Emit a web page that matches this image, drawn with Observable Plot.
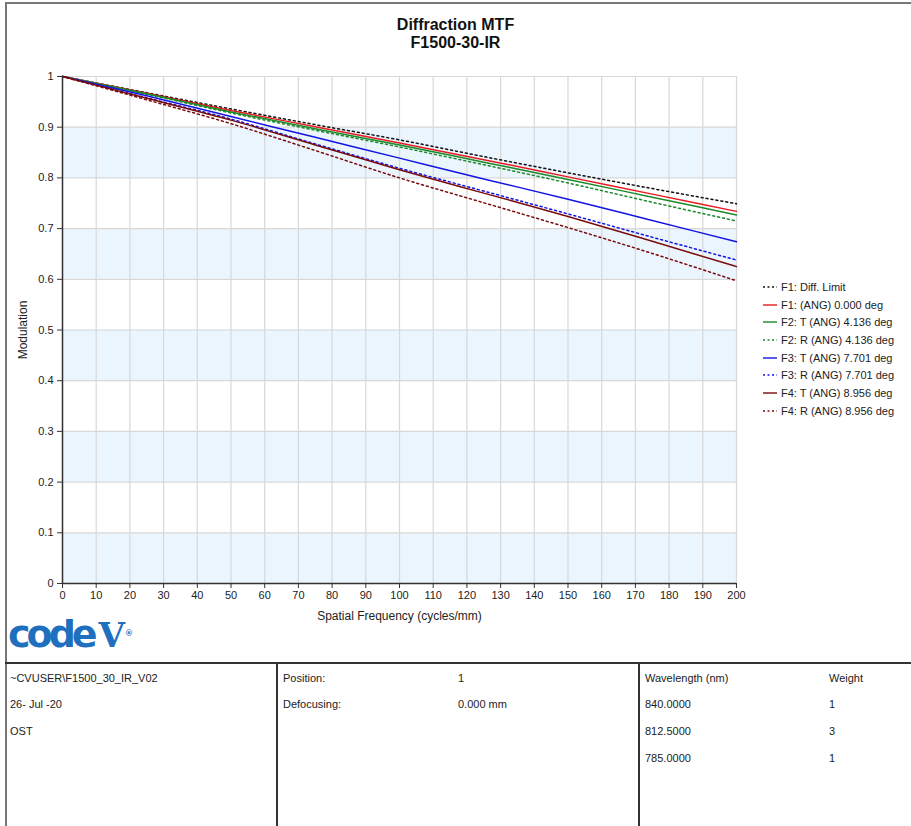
<!DOCTYPE html>
<html>
<head>
<meta charset="utf-8">
<script src="https://cdn.jsdelivr.net/npm/d3@7"></script>
<script src="https://cdn.jsdelivr.net/npm/@observablehq/plot@0.6"></script>
<style>
  html, body { margin: 0; padding: 0; background: #fff; }
  body { font-family: "Liberation Sans", Arial, sans-serif; }
  #page { position: relative; width: 911px; height: 826px; overflow: hidden; }
  .abs { position: absolute; }
  #title { left: 0; width: 911px; top: 16px; text-align: center; font-weight: bold; font-size: 16px; line-height: 18px; color: #111; }
  #chart { left: 0; top: 60px; }
  #legend { left: 763px; top: 278px; font-size: 11px; color: #222; }
  .lg { height: 17.7px; display: flex; align-items: center; white-space: nowrap; }
  .lg svg { margin-right: 4px; }
  .cell { position: absolute; font-size: 11px; color: #222; }
  #logo { left: 8px; top: 612px; color: #1f6fbf; font-weight: 900; font-size: 38px; letter-spacing: -4px; line-height: 44px; font-family: "DejaVu Sans", sans-serif; }
</style>
</head>
<body>
<div id="page">
  <div class="abs" style="left:5px;top:2px;width:906px;height:2px;background:#777"></div>
  <div class="abs" style="left:5px;top:2px;width:2px;height:824px;background:#777"></div>
  <div id="title" class="abs">Diffraction MTF<br>F1500-30-IR</div>
  <div id="chart" class="abs"></div>
  <div id="legend" class="abs"></div>
  <div id="logo" class="abs">code<span style="font-family:'DejaVu Serif',serif;letter-spacing:0;font-size:34px;margin-left:5px">V</span><span style="font-size:8px;vertical-align:top;letter-spacing:0">®</span></div>
  <div class="abs" style="left:5px;top:662px;width:906px;height:2px;background:#333"></div>
  <div class="abs" style="left:276px;top:663px;width:2px;height:163px;background:#333"></div>
  <div class="abs" style="left:638px;top:663px;width:2px;height:163px;background:#333"></div>
  <div id="table"></div>
</div>
<script>
// Spatial frequency sample points (cycles/mm)
const freq = [0, 25, 50, 75, 100, 125, 150, 175, 200];
// Modulation values per series
const diffLimit = [1, 0.968, 0.936, 0.905, 0.875, 0.842, 0.810, 0.779, 0.749];
const f1Ang     = [1, 0.967, 0.933, 0.901, 0.869, 0.836, 0.802, 0.768, 0.734];
const f2T       = [1, 0.966, 0.930, 0.897, 0.865, 0.831, 0.797, 0.762, 0.727];
const f2R       = [1, 0.965, 0.928, 0.894, 0.861, 0.826, 0.790, 0.752, 0.715];
const f3T       = [1, 0.962, 0.921, 0.880, 0.839, 0.798, 0.758, 0.716, 0.674];
const f3R       = [1, 0.958, 0.916, 0.867, 0.819, 0.774, 0.729, 0.683, 0.638];
const f4T       = [1, 0.957, 0.914, 0.865, 0.816, 0.770, 0.724, 0.675, 0.625];
const f4R       = [1, 0.954, 0.907, 0.854, 0.800, 0.751, 0.702, 0.651, 0.597];

const seriesNames = [
  "F1: Diff. Limit",
  "F1: (ANG) 0.000 deg",
  "F2: T (ANG) 4.136 deg",
  "F2: R (ANG) 4.136 deg",
  "F3: T (ANG) 7.701 deg",
  "F3: R (ANG) 7.701 deg",
  "F4: T (ANG) 8.956 deg",
  "F4: R (ANG) 8.956 deg"
];
const seriesValues = [diffLimit, f1Ang, f2T, f2R, f3T, f3R, f4T, f4R];
const seriesColors = ["#111111", "#e8191f", "#1a8a2a", "#1a8a2a", "#1414e6", "#1414e6", "#7a0b0b", "#7a0b0b"];
const seriesDotted = [true, false, false, true, false, true, false, true];

const xTicks = d3.range(0, 201, 10);
const yTicks = d3.range(0, 11).map(d => d / 10);
const bandStarts = [0, 0.2, 0.4, 0.6, 0.8];

const rows = [];
seriesNames.forEach((name, i) => {
  seriesValues[i].forEach((v, j) => rows.push({series: name, f: freq[j], m: v}));
});

const marks = [
  Plot.rect(bandStarts, {y1: d => d, y2: d => d + 0.1, fill: "#ebf5fd"}),
  Plot.gridX(xTicks, {stroke: "#d8d8d8", strokeOpacity: 1, strokeWidth: 1.2}),
  Plot.gridY(yTicks, {stroke: "#d8d8d8", strokeOpacity: 1, strokeWidth: 1.2}),
];
seriesNames.forEach((name, i) => {
  marks.push(Plot.line(rows.filter(r => r.series === name), {
    x: "f", y: "m", curve: "monotone-x",
    stroke: seriesColors[i], strokeWidth: 1.5,
    strokeDasharray: seriesDotted[i] ? "2,3" : null
  }));
});
marks.push(
  Plot.axisX(xTicks, {tickSize: 5, tickPadding: 3, fontSize: 11, stroke: "#333", fill: "#222",
    label: "Spatial Frequency (cycles/mm)", labelAnchor: "center", labelArrow: "none", labelOffset: 36}),
  Plot.axisY(yTicks, {tickSize: 5, tickPadding: 4, fontSize: 11, stroke: "#333", fill: "#222",
    tickFormat: d => String(d),
    label: "Modulation", labelAnchor: "center", labelArrow: "none", labelOffset: 44}),
  Plot.ruleX([0], {stroke: "#333", strokeWidth: 1.5}),
  Plot.ruleY([0], {stroke: "#333", strokeWidth: 1.5})
);

const chart = Plot.plot({
  width: 760, height: 580,
  marginLeft: 62, marginRight: 24, marginTop: 16, marginBottom: 57,
  style: {fontFamily: "'Liberation Sans', Arial, sans-serif", fontSize: "11px", color: "#222", background: "transparent"},
  x: {domain: [0, 200]},
  y: {domain: [0, 1]},
  marks
});
d3.select(chart).selectAll("[aria-label='x-axis label'] text, [aria-label='y-axis label'] text").style("font-size", "12px");
document.getElementById("chart").appendChild(chart);

// Legend
const legend = document.getElementById("legend");
seriesNames.forEach((name, i) => {
  const row = document.createElement("div");
  row.className = "lg";
  row.innerHTML = `<svg width="14" height="6"><line x1="0" x2="14" y1="3" y2="3" stroke="${seriesColors[i]}" stroke-width="1.4" ${seriesDotted[i] ? 'stroke-dasharray="2,2.5"' : ''}/></svg><span>${name}</span>`;
  legend.appendChild(row);
});

// Info table
const col1 = ["~CVUSER\\F1500_30_IR_V02", "26- Jul -20", "OST"];
const col2Labels = ["Position:", "Defocusing:"];
const col2Values = ["1", "0.000 mm"];
const wavelengths = ["Wavelength (nm)", "840.0000", "812.5000", "785.0000"];
const weights = ["Weight", "1", "3", "1"];
const rowTops = [672, 698, 725, 752];
const table = document.getElementById("table");
function cell(text, left, top) {
  const d = document.createElement("div");
  d.className = "cell";
  d.style.left = left + "px";
  d.style.top = top + "px";
  d.textContent = text;
  table.appendChild(d);
}
col1.forEach((t, i) => cell(t, 10, rowTops[i]));
col2Labels.forEach((t, i) => cell(t, 283, rowTops[i]));
col2Values.forEach((t, i) => cell(t, 458, rowTops[i]));
wavelengths.forEach((t, i) => cell(t, 645, rowTops[i]));
weights.forEach((t, i) => cell(t, 829, rowTops[i]));
</script>
</body>
</html>
